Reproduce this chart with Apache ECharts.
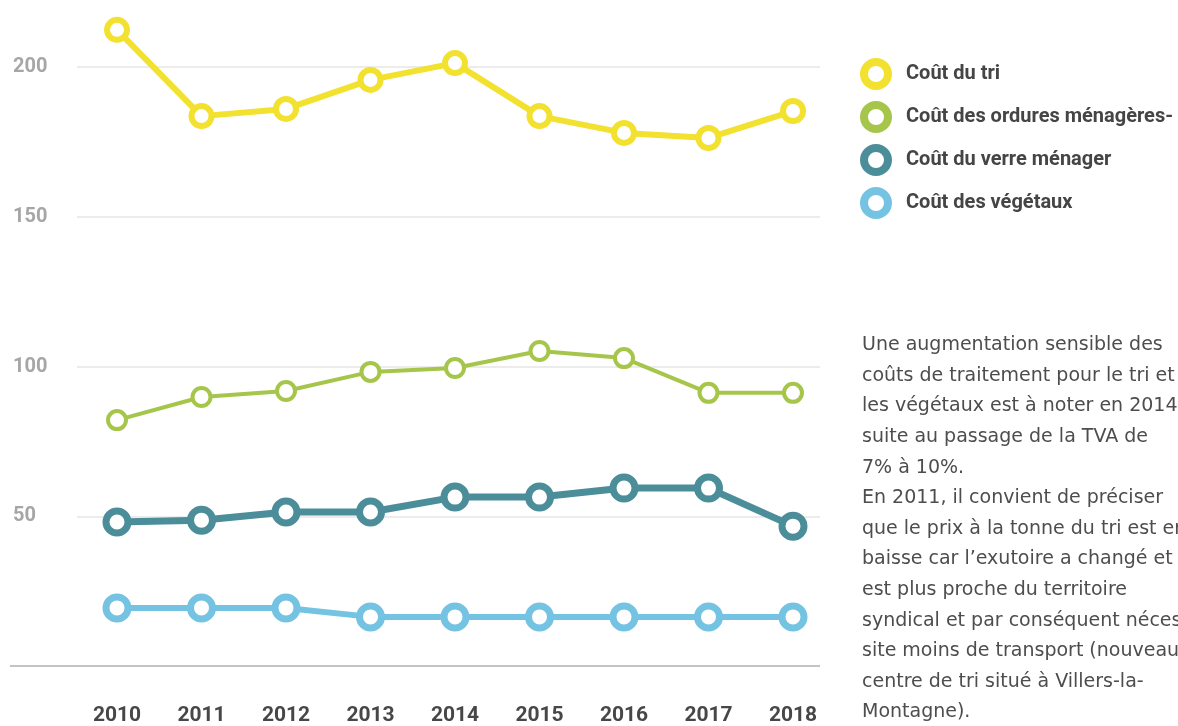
<!DOCTYPE html>
<html>
<head>
<meta charset="utf-8">
<script src="https://cdn.jsdelivr.net/npm/echarts@6/dist/echarts.min.js"></script>
<style>
html,body{margin:0;padding:0;background:#fff;overflow:hidden;}
#c{width:1178px;height:726px;}
</style>
</head>
<body>
<div id="c"></div>
<script>
var years = ['2010','2011','2012','2013','2014','2015','2016','2017','2018'];
var coutTri = [212.4, 183.6, 186.0, 195.7, 201.3, 183.6, 178.0, 176.3, 185.3];
var coutOrdures = [82.1, 89.8, 91.8, 98.2, 99.5, 105.2, 102.8, 91.2, 91.2];
var coutVerre = [48.1, 48.7, 51.4, 51.4, 56.4, 56.4, 59.4, 59.4, 46.7];
var coutVegetaux = [19.4, 19.4, 19.4, 16.4, 16.4, 16.4, 16.4, 16.4, 16.4];
var seriesNames = ['Coût du tri', 'Coût des ordures ménagères-', 'Coût du verre ménager', 'Coût des végétaux'];
var seriesColors = ['#f2e12e', '#a6c64b', '#4b8e9a', '#74c3e2'];
var yTicks = [0, 50, 100, 150, 200];
var noteLines = [
  'Une augmentation sensible des',
  'coûts de traitement pour le tri et',
  'les végétaux est à noter en 2014',
  'suite au passage de la TVA de',
  '7% à 10%.',
  'En 2011, il convient de préciser',
  'que le prix à la tonne du tri est en',
  'baisse car l\u2019exutoire a changé et',
  'est plus proche du territoire',
  'syndical et par conséquent néces-',
  'site moins de transport (nouveau',
  'centre de tri situé à Villers-la-',
  'Montagne).'
];

var condensed = "Roboto, 'Liberation Sans', sans-serif";
var chart = echarts.init(document.getElementById('c'));

var seriesData = [coutTri, coutOrdures, coutVerre, coutVegetaux];
var lineWidths = [6, 4, 7, 6];
var symSizes = [20, 18, 22, 22];
var symBorders = [6, 4, 7, 7];

var series = seriesData.map(function (d, i) {
  return {
    name: seriesNames[i],
    type: 'line',
    xAxisIndex: 1,
    yAxisIndex: 1,
    data: d,
    clip: false,
    symbol: 'circle',
    symbolSize: symSizes[i],
    z: 10 - i,
    lineStyle: { color: seriesColors[i], width: lineWidths[i] },
    itemStyle: { color: '#ffffff', borderColor: seriesColors[i], borderWidth: symBorders[i] },
    emphasis: { disabled: true }
  };
});

chart.setOption({
  animation: false,
  backgroundColor: '#ffffff',
  grid: [
    { left: 77, right: 358, top: 67, bottom: 60 },
    { left: 117, right: 385, top: 67, bottom: 60 }
  ],
  xAxis: [
    { gridIndex: 0, type: 'category', data: years, show: false },
    {
      gridIndex: 1, type: 'category', data: years, boundaryGap: false,
      axisLine: { show: false }, axisTick: { show: false },
      axisLabel: { margin: 39, color: '#474747', fontSize: 21, fontWeight: 'bold', fontFamily: condensed }
    }
  ],
  yAxis: [
    {
      gridIndex: 0, type: 'value', min: yTicks[0], max: yTicks[yTicks.length - 1], interval: 50,
      axisLine: { show: false }, axisTick: { show: false },
      splitLine: { lineStyle: { color: '#e6e6e6', width: 1.5 } },
      axisLabel: {
        align: 'left', margin: 64, color: '#a6a6a6', fontSize: 20, fontWeight: 'bold', fontFamily: condensed,
        formatter: function (v) { return v === 0 ? '' : String(v); }
      }
    },
    {
      gridIndex: 1, type: 'value', min: yTicks[0], max: yTicks[yTicks.length - 1], interval: 50,
      show: false
    }
  ],
  legend: {
    orient: 'vertical',
    left: 855, top: 53,
    itemWidth: 24, itemHeight: 24, itemGap: 11,
    icon: 'circle',
    selectedMode: false,
    data: seriesNames.map(function (n, i) {
      return { name: n, icon: 'circle', itemStyle: { color: '#ffffff', borderColor: seriesColors[i], borderWidth: 8 } };
    }),
    textStyle: { color: '#454545', fontSize: 20, fontWeight: 'bold', fontFamily: condensed, padding: [0, 0, 0, 13], lineHeight: 24 }
  },
  graphic: [
    { type: 'line', shape: { x1: 10, y1: 666, x2: 820, y2: 666 }, style: { stroke: '#c4c4c4', lineWidth: 2 }, z: 1 },
    {
      type: 'text', left: 862, top: 330,
      style: {
        text: noteLines.join('\n'),
        fill: '#4d4d4d', fontSize: 19, fontFamily: "'DejaVu Sans', sans-serif",
        lineHeight: 30.6
      }
    }
  ],
  series: series
});
</script>
</body>
</html>
